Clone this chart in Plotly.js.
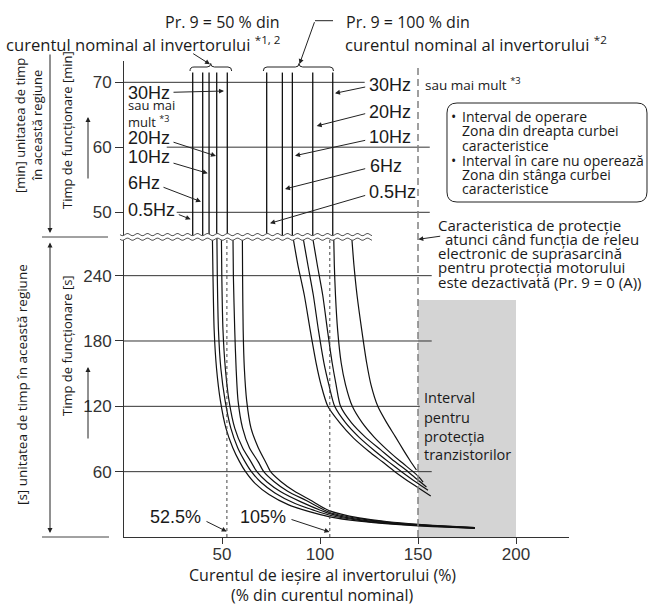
<!DOCTYPE html>
<html><head><meta charset="utf-8">
<script src="https://cdn.plot.ly/plotly-3.0.1.min.js"></script>
<style>html,body{margin:0;padding:0;background:#fff}</style>
</head><body><div id="chart" style="width:649px;height:605px"></div>
<script>
// ---------------- data ----------------
const xTicks = [50, 100, 150, 200];
const secTicks = [60, 120, 180, 240];
const minTicks = [50, 60, 70];
const freqs = ['0.5Hz', '6Hz', '10Hz', '20Hz', '30Hz'];
// vertical characteristic lines in the [min] region (current %)
const minLine50 = [35.05, 40.15, 43.4, 47.3, 52.7];
const minLine100 = [72.8, 80.8, 85.9, 96.3, 106.5];
const minLineTop = 71.5;
// Pr.9 = 50 % curves in the [s] region
const c50_05x = [45.1, 45.4, 46.0, 47.2, 49.2, 52.0, 55.5, 59.0, 62.0, 67.0, 74.0, 84.0, 95.0, 105.0, 120.0, 135.0, 150.0, 165.0, 179.0];
const c50_05t = [275.5, 240, 190, 155, 125, 100, 82, 69, 60, 49, 39, 29.5, 23, 18.5, 14.5, 12, 10.2, 9, 8];
const c50_6x = [47.4, 47.6, 48.2, 49.4, 51.6, 54.5, 58.0, 61.8, 65.0, 70.0, 77.0, 87.0, 97.0, 105.0, 120.0, 135.0, 150.0, 165.0, 179.0];
const c50_6t = [275.5, 240, 190, 155, 125, 100, 82, 69, 60, 50, 40.5, 31, 24.5, 20, 15.3, 12.5, 10.6, 9.2, 8.2];
const c50_10x = [49.7, 49.9, 50.5, 51.7, 53.6, 56.5, 60.5, 64.8, 67.8, 73.0, 80.0, 90.0, 105.0, 120.0, 135.0, 150.0, 165.0, 179.0];
const c50_10t = [275.5, 240, 190, 155, 125, 100, 82, 69, 60, 50.5, 41.5, 32.5, 21.5, 16, 13, 11, 9.5, 8.4];
const c50_20x = [55.6, 55.8, 56.5, 57.2, 58.2, 60.5, 64.0, 68.5, 71.3, 76.5, 83.5, 93.0, 105.0, 120.0, 135.0, 150.0, 165.0, 179.0];
const c50_20t = [275.5, 240, 190, 155, 125, 100, 82, 69, 60, 51, 42, 33.5, 22.5, 16.8, 13.5, 11.3, 9.7, 8.6];
const c50_30x = [60.4, 60.5, 60.8, 61.4, 62.6, 64.8, 68.5, 72.5, 74.8, 80.0, 87.0, 95.0, 105.0, 120.0, 135.0, 150.0, 165.0, 179.0];
const c50_30t = [275.5, 240, 190, 155, 125, 100, 82, 68, 60, 51, 42, 34, 24, 17.5, 14, 11.7, 9.9, 8.7];
// Pr.9 = 100 % curves in the [s] region
const c100_05x = [86.2, 88.7, 92.0, 95.0, 98.0, 100.5, 104.0, 110.0, 117.0, 125.0, 132.0, 138.2, 147.0, 156.5];
const c100_05t = [275.5, 250, 222, 190, 160, 140, 120, 105, 91, 78.5, 68.8, 60, 48.8, 37.6];
const c100_6x = [91.3, 93.8, 96.6, 99.2, 102.0, 104.5, 107.5, 113.0, 120.0, 128.0, 135.0, 141.6, 148.5, 155.1];
const c100_6t = [275.5, 250, 222, 190, 160, 140, 120, 105, 91.5, 79, 69, 60, 51, 43];
const c100_10x = [96.2, 98.6, 101.4, 103.8, 106.2, 108.2, 110.5, 116.0, 123.0, 131.0, 138.0, 144.9, 149.5, 154.3];
const c100_10t = [275.5, 250, 222, 190, 160, 140, 120, 105, 92, 80, 69.5, 60, 53, 46];
const c100_20x = [107.0, 107.3, 107.9, 109.0, 110.8, 113.0, 116.5, 121.5, 127.5, 134.0, 141.0, 147.5, 150.5, 152.6];
const c100_20t = [275.5, 250, 222, 190, 160, 140, 120, 105, 92, 80.5, 69.5, 60, 55, 50.5];
const c100_30x = [116.2, 117.3, 118.9, 121.3, 123.8, 126.0, 129.5, 134.0, 138.5, 142.5, 146.0, 149.2];
const c100_30t = [275.5, 250, 222, 190, 160, 140, 120, 105, 92, 80, 70, 61.5];
// reference levels
const refPct = [52.5, 105];
const refLabels = ['52.5%', '105%'];
const disabledLimit = 150;          // protection characteristic when relay is off
const transistorRange = [150, 200]; // transistor protection range
const transistorTop = 217.6;

// ---------------- geometry helpers (decoration only) ----------------
const L = 124, R = 569, T = 61, B = 537;
const PX = px => (px - L) / (R - L);
const PY = py => (B - py) / (B - T);
const P = (px, py) => PX(px).toFixed(5) + ',' + PY(py).toFixed(5);
const SANS = '"Open Sans", "Noto Sans", sans-serif';
const ARIAL = '"Liberation Sans", Arial, sans-serif';
const INK = '#1a1a1a';
const SEC_TOP = 275.5, MIN_BOTTOM = 46.2;

// ---------------- traces ----------------
const traces = [];
const lineStyle = {color: '#111', width: 1.3};
minLine50.concat(minLine100).forEach(v => {
  traces.push({x: [v, v], y: [MIN_BOTTOM, minLineTop], xaxis: 'x', yaxis: 'y2', mode: 'lines',
    line: lineStyle, hoverinfo: 'skip', showlegend: false});
});
const curves = [
  [c50_05x, c50_05t], [c50_6x, c50_6t], [c50_10x, c50_10t], [c50_20x, c50_20t], [c50_30x, c50_30t],
  [c100_05x, c100_05t], [c100_6x, c100_6t], [c100_10x, c100_10t], [c100_20x, c100_20t], [c100_30x, c100_30t]
];
curves.forEach((c, i) => {
  traces.push({x: c[0], y: c[1], xaxis: 'x', yaxis: 'y', mode: 'lines', name: freqs[i % 5],
    line: {color: '#111', width: 1.2, shape: 'spline', smoothing: 0.7}, hoverinfo: 'skip', showlegend: false});
});
refPct.forEach(v => {
  traces.push({x: [v, v], y: [0, SEC_TOP], xaxis: 'x', yaxis: 'y', mode: 'lines',
    line: {color: '#444', width: 1, dash: 'dot'}, hoverinfo: 'skip', showlegend: false});
});

// ---------------- shapes ----------------
const shapes = [];
shapes.push({type: 'rect', xref: 'x', yref: 'y', x0: transistorRange[0], x1: transistorRange[1], y0: 0, y1: transistorTop,
  fillcolor: '#d4d4d4', line: {width: 0}, layer: 'below'});
const hl = (yref, y, x0, x1, color, w) => shapes.push({type: 'line', xref: 'x', yref: yref, x0: x0, x1: x1, y0: y, y1: y,
  line: {color: color || '#333', width: w || 1}, layer: 'below'});
hl('y', 240, 0, 157); hl('y', 180, 0, 157); hl('y', 120, 0, 150.9); hl('y', 60, 0, 157);
hl('y2', 70, 0, 122.8); hl('y2', 60, 21.8, 156, '#777', 1.4); hl('y2', 50, 26.9, 156);
shapes.push({type: 'line', xref: 'x', yref: 'paper', x0: disabledLimit, x1: disabledLimit, y0: 0, y1: PY(68),
  line: {color: '#808080', width: 1.5, dash: '7px,4px'}});
// break waves
function wavePts(py) { const pts = []; for (let px = 120; px <= 372; px += 1) pts.push([px, py + 1.1 * Math.sin((px - 120) / 10 * 2 * Math.PI)]); return pts; }
const w1 = wavePts(234.6), w2 = wavePts(239.2);
shapes.push({type: 'path', xref: 'paper', yref: 'paper', path: 'M ' + w1.map(p => P(p[0], p[1])).join(' L ') + ' L ' + w2.slice().reverse().map(p => P(p[0], p[1])).join(' L ') + ' Z',
  fillcolor: '#fff', line: {width: 0}, layer: 'above'});
[w1, w2].forEach(w => shapes.push({type: 'path', xref: 'paper', yref: 'paper', path: 'M ' + w.map(p => P(p[0], p[1])).join(' L '),
  line: {color: '#555', width: 1}, layer: 'above'}));
// braces
shapes.push({type: 'path', xref: 'paper', yref: 'paper', line: {color: '#222', width: 1},
  path: `M ${P(190, 71)} Q ${P(190, 67)} ${P(194, 67)} L ${P(207, 67)} Q ${P(210.7, 67)} ${P(210.7, 63.5)} Q ${P(210.7, 67)} ${P(214.5, 67)} L ${P(228, 67)} Q ${P(231.7, 67)} ${P(231.7, 71)}`});
shapes.push({type: 'path', xref: 'paper', yref: 'paper', line: {color: '#222', width: 1},
  path: `M ${P(263.3, 71)} Q ${P(263.3, 67)} ${P(267, 67)} L ${P(295.3, 67)} Q ${P(299, 67)} ${P(299, 63.5)} Q ${P(299, 67)} ${P(302.7, 67)} L ${P(330, 67)} Q ${P(333.5, 67)} ${P(333.5, 71)}`});
shapes.push({type: 'line', xref: 'paper', yref: 'paper', x0: PX(315), x1: PX(333), y0: PY(20.7), y1: PY(20.7), line: {color: '#222', width: 1}});
// legend box
shapes.push({type: 'path', xref: 'paper', yref: 'paper', line: {color: '#222', width: 1},
  path: `M ${P(457, 103)} L ${P(637, 103)} Q ${P(647, 103)} ${P(647, 113)} L ${P(647, 192)} Q ${P(647, 202)} ${P(637, 202)} L ${P(457, 202)} Q ${P(447, 202)} ${P(447, 192)} L ${P(447, 113)} Q ${P(447, 103)} ${P(457, 103)} Z`});
// left region brackets
shapes.push({type: 'line', xref: 'paper', yref: 'paper', x0: PX(42), x1: PX(108), y0: PY(237), y1: PY(237), line: {color: '#444', width: 1}});
shapes.push({type: 'line', xref: 'paper', yref: 'paper', x0: PX(42), x1: PX(109), y0: PY(537), y1: PY(537), line: {color: '#444', width: 1}});

// ---------------- annotations ----------------
const ann = [];
function txt(px, py, text, anchor, size, family, extra) {
  ann.push(Object.assign({xref: 'paper', yref: 'paper', x: PX(px), y: PY(py), text: text, showarrow: false,
    xanchor: anchor || 'left', yanchor: 'middle', font: {family: family || SANS, size: size || 16, color: INK}}, extra || {}));
}
function arr(tx, ty, sx, sy, extra) {
  ann.push(Object.assign({xref: 'paper', yref: 'paper', x: PX(tx), y: PY(ty), ax: sx - tx, ay: sy - ty, text: '',
    showarrow: true, arrowhead: 2, arrowsize: 1, arrowwidth: 1, arrowcolor: '#222', standoff: 0, startstandoff: 0}, extra || {}));
}
txt(282, 22, 'Pr. 9 = 50 % din', 'right');
txt(283, 44, 'curentul nominal al invertorului <sup>*1, 2</sup>', 'right', 16.6);
txt(344, 22, 'Pr. 9 = 100 % din', 'left');
txt(343, 44, 'curentul nominal al invertorului <sup>*2</sup>', 'left', 16.6);
arr(210, 64.3, 191.7, 52.7);
arr(299.5, 64, 315, 20.7);
// Hz labels, left group (Pr.9 = 50 %)
txt(126, 93, freqs[4], 'left', 18, ARIAL);
txt(126, 105, 'sau mai', 'left', 13);
txt(126, 121, 'mult <sup>*3</sup>', 'left', 13);
txt(126, 137.5, freqs[3], 'left', 18, ARIAL);
txt(126, 157.5, freqs[2], 'left', 18, ARIAL);
txt(126, 183, freqs[1], 'left', 18, ARIAL);
txt(126, 210, freqs[0], 'left', 18, ARIAL);
arr(224, 91, 172, 92.3);
arr(216, 156, 172, 141.7);
arr(207.7, 173.3, 172, 162.7);
arr(201, 201.7, 162, 186.7);
arr(190.7, 219.3, 177.3, 214);
// Hz labels, right group (Pr.9 = 100 %)
txt(367, 85, freqs[4], 'left', 18, ARIAL);
txt(367, 112, freqs[3], 'left', 18, ARIAL);
txt(367, 137, freqs[2], 'left', 18, ARIAL);
txt(368, 166, freqs[1], 'left', 18, ARIAL);
txt(367, 192, freqs[0], 'left', 18, ARIAL);
arr(335, 93.3, 366.7, 86.7);
arr(316.7, 126, 366.7, 113.3);
arr(295, 155.7, 366.7, 140);
arr(285, 189, 366.7, 168.3);
arr(270, 223.3, 366.7, 195);
txt(423, 84, 'sau mai mult <sup>*3</sup>', 'left', 13.5);
// legend box text
txt(449, 116.7, '•', 'left', 14);
txt(449, 160, '•', 'left', 14);
txt(460, 116.7, 'Interval de operare', 'left', 14);
txt(460, 130.7, 'Zona din dreapta curbei', 'left', 14);
txt(460, 145, 'caracteristice', 'left', 14);
txt(460, 160, 'Interval în care nu operează', 'left', 14);
txt(460, 174, 'Zona din stânga curbei', 'left', 14);
txt(460, 188.3, 'caracteristice', 'left', 14);
// protection characteristic text
txt(436, 225, 'Caracteristica de protecție', 'left', 15);
txt(443, 239.3, 'atunci când funcția de releu', 'left', 15);
txt(436, 253.3, 'electronic de suprasarcină', 'left', 15);
txt(436, 267.3, 'pentru protecția motorului', 'left', 15);
txt(436, 281.7, 'este dezactivată (Pr. 9 = 0 (A))', 'left', 15);
arr(418.3, 239.3, 441.7, 236);
// transistor range text
txt(422, 398, 'Interval', 'left', 14.5);
txt(422, 417, 'pentru', 'left', 14.5);
txt(422, 436, 'protecția', 'left', 14.5);
txt(422, 454.5, 'tranzistorilor', 'left', 14.5);
// reference percent labels
txt(203, 517, refLabels[0], 'right', 18, ARIAL);
txt(288, 517, refLabels[1], 'right', 18, ARIAL);
arr(226.7, 531.5, 205, 520.7);
arr(329.5, 532, 290, 519);
// x axis title
txt(322, 575, 'Curentul de ieșire al invertorului (%)', 'center', 16);
txt(322, 595, '(% din curentul nominal)', 'center', 16);
// left side labels
txt(20, 126, '[min] unitatea de timp', 'center', 13, SANS, {textangle: -90});
txt(37, 126, 'în această regiune', 'center', 13, SANS, {textangle: -90});
txt(67, 130, 'Timp de funcționare [min]', 'center', 13, SANS, {textangle: -90});
txt(22, 385, '[s] unitatea de timp în această regiune', 'center', 13.5, SANS, {textangle: -90});
txt(67, 346, 'Timp de funcționare [s]', 'center', 13, SANS, {textangle: -90});
arr(50, 233, 50, 53);
arr(50, 533, 50, 241, {arrowside: 'end+start'});
arr(88, 117, 88, 180);
arr(88, 367, 88, 440);

const axisCommon = {showgrid: false, zeroline: false, showline: true, linecolor: '#333', linewidth: 1,
  ticks: 'outside', tickcolor: '#333', tickwidth: 1, fixedrange: true,
  tickfont: {family: ARIAL, size: 17, color: '#333'}};
const layout = {
  width: 649, height: 605,
  margin: {l: L, r: 649 - R, t: T, b: 605 - B, pad: 0},
  paper_bgcolor: '#fff', plot_bgcolor: 'rgba(0,0,0,0)',
  showlegend: false,
  xaxis: Object.assign({}, axisCommon, {range: [0, (R - L) / 1.96], tickvals: xTicks, ticklen: 6, anchor: 'y', ticklabelstandoff: -4}),
  yaxis: Object.assign({}, axisCommon, {domain: [0, PY(237)], range: [0, SEC_TOP], tickvals: secTicks, ticklen: 8, anchor: 'x'}),
  yaxis2: Object.assign({}, axisCommon, {domain: [PY(237), 1], range: [MIN_BOTTOM, 73.28], tickvals: minTicks, ticklen: 8, anchor: 'x'}),
  shapes: shapes,
  annotations: ann
};
Plotly.newPlot('chart', traces, layout, {displayModeBar: false, staticPlot: true});
</script></body></html>
